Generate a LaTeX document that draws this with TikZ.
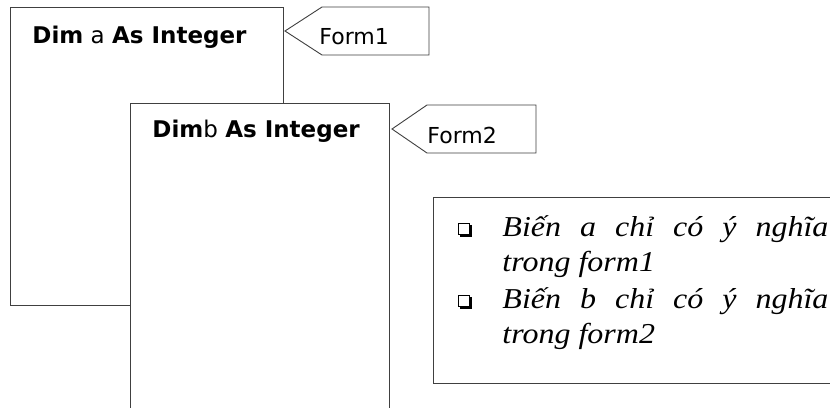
\documentclass[tikz,border=0pt]{standalone}
\usepackage{fontspec}
\usepackage{graphicx}
\setmainfont{Liberation Serif}
\newfontfamily\tsans{DejaVu Sans}
\newcommand\vsq[1]{\scalebox{1}[0.9]{#1}}
\begin{document}
\begin{tikzpicture}[x=1pt,y=-1pt,line width=0.9pt,
  frame/.style={draw=black!75,fill=white},
  dimtext/.style={anchor=base west,inner sep=0pt,font=\tsans\fontsize{23}{27}\selectfont},
  tagtext/.style={anchor=base west,inner sep=0pt,font=\tsans\fontsize{22}{26}\selectfont},
  notetext/.style={anchor=base west,inner sep=0pt,font=\itshape\fontsize{32}{38}\selectfont},
  bulletbox/.style={draw=black,fill=white,line width=0.8pt}]
\useasboundingbox (0,0) rectangle (830,407);
\clip (0,0) rectangle (830,407);
\fill[white] (0,0) rectangle (830,407);
% form windows
\draw[frame] (10,7) rectangle (283,305);
\draw[frame] (130,103) rectangle (389,420);
\node[dimtext] (dim1) at (32,43) {\textbf{Dim} a \textbf{As Integer}};
\node[dimtext] (dim2) at (152,137) {\textbf{Dim}b \textbf{As Integer}};
% tags
\draw[frame] (322,7) -- (429,7) -- (429,55) -- (322,55) -- (285,31) -- cycle;
\node[tagtext] (form1) at (319,44) {Form1};
\draw[frame] (427,105) -- (536,105) -- (536,153) -- (427,153) -- (392,129) -- cycle;
\node[tagtext] (form2) at (427,143) {Form2};
% note box
\draw[frame] (433,197) rectangle (900,383);
\fill (460,225) rectangle (472,237);
\draw[bulletbox] (458,223) rectangle (469,234);
\fill (460,297) rectangle (472,309);
\draw[bulletbox] (458,295) rectangle (469,306);
\node[notetext] (l1) at (502,236) {\vsq{\makebox[326pt][s]{Biến a chỉ có ý nghĩa}}};
\node[notetext] (l2) at (502,271) {\vsq{trong form1}};
\node[notetext] (l3) at (502,308) {\vsq{\makebox[326pt][s]{Biến b chỉ có ý nghĩa}}};
\node[notetext] (l4) at (502,343) {\vsq{trong form2}};
\end{tikzpicture}
\end{document}
